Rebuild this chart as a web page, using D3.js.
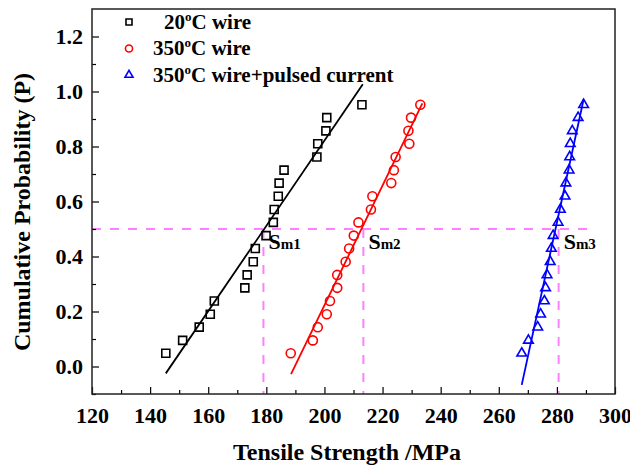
<!DOCTYPE html>
<html>
<head>
<meta charset="utf-8">
<script src="https://cdn.jsdelivr.net/npm/d3@7"></script>
<style>
  body { margin: 0; background: #fff; }
  text { font-family: "Liberation Serif", "Times New Roman", serif; font-weight: bold; }
</style>
</head>
<body>
<svg id="chart" width="630" height="466"></svg>
<script>
// cumulative probability levels (same for all three series)
var probs = [0.048, 0.095, 0.143, 0.190, 0.238, 0.286, 0.333, 0.381, 0.429, 0.476,
             0.524, 0.571, 0.619, 0.667, 0.714, 0.762, 0.810, 0.857, 0.905, 0.952]

// tensile strength, MPa
var wire20 = [145.4, 151.2, 156.9, 160.7, 162.1, 172.6, 173.4, 175.5, 176.2, 179.9,
              182.4, 182.7, 184.1, 184.4, 186.1, 197.4, 197.7, 200.5, 200.8, 212.9]
var wire350 = [188.4, 196.0, 197.7, 200.8, 201.9, 204.4, 204.4, 207.3, 208.5, 210.1,
               211.7, 216.0, 216.5, 223.0, 223.9, 224.5, 229.2, 228.9, 229.8, 233.0]
var wirePulsed = [267.9, 270.2, 273.4, 274.4, 275.7, 276.1, 276.6, 277.7, 278.1, 278.7,
                  280.4, 281.2, 282.8, 283.1, 284.2, 284.4, 284.6, 285.3, 287.3, 289.2]

// fitted lines, [strength, probability] at both ends
var fit20 = [[145.4, -0.025], [213.2, 1.026]]
var fit350 = [[188.5, -0.028], [233.7, 0.957]]
var fitPulsed = [[267.9, -0.067], [289.2, 0.972]]

// median strengths (P = 0.5)
var medians = [179.0, 213.4, 280.6]
var medianNames = ["1", "2", "3"]

var seriesNames = ["20", "350", "350"]
var seriesSuffix = ["C wire", "C wire", "C wire+pulsed current"]
var seriesColors = ["#000000", "#ff0000", "#0000ff"]

var xTicks = [120, 140, 160, 180, 200, 220, 240, 260, 280, 300]
var yTicks = [0.0, 0.2, 0.4, 0.6, 0.8, 1.0, 1.2]

var svg = d3.select("#chart")

var plotLeft = 92, plotRight = 615, plotTop = 9, plotBottom = 394

var x = d3.scaleLinear().domain([120, 300]).range([plotLeft, plotRight])
var y = d3.scaleLinear().domain([-0.1, 1.3]).range([plotBottom, plotTop])

// dashed median guides
var pink = "#ff80ff"
svg.append("line")
  .attr("x1", x(120)).attr("x2", x(290.4))
  .attr("y1", y(0.5)).attr("y2", y(0.5))
  .attr("stroke", pink).attr("stroke-width", 2).attr("stroke-dasharray", "9,9")

svg.selectAll(".vguide")
  .data(medians)
  .enter()
  .append("line")
  .attr("class", "vguide")
  .attr("x1", function(d) { return x(d) }).attr("x2", function(d) { return x(d) })
  .attr("y1", y(0.5)).attr("y2", y(-0.1))
  .attr("stroke", pink).attr("stroke-width", 2).attr("stroke-dasharray", "9,9")

// Sm labels
var sm = svg.selectAll(".sm")
  .data(medians)
  .enter()
  .append("text")
  .attr("class", "sm")
  .attr("x", function(d) { return x(d) + 5 })
  .attr("y", y(0.5) + 20)
  .style("font-size", "22px")
sm.append("tspan").text("S")
sm.append("tspan").style("font-size", "15px").text(function(d, i) { return "m" + medianNames[i] })

// fit lines
var line = d3.line()
  .x(function(d) { return x(d[0]) })
  .y(function(d) { return y(d[1]) })

var fits = [fit20, fit350, fitPulsed]
fits.forEach(function(f, i) {
  svg.append("path")
    .attr("d", line(f))
    .attr("fill", "none")
    .attr("stroke", seriesColors[i])
    .attr("stroke-width", 1.8)
})

// markers
var shapes = [d3.symbolSquare, d3.symbolCircle, d3.symbolTriangle]
var sizes = [64, 64, 40]
var allData = [wire20, wire350, wirePulsed]

allData.forEach(function(vals, i) {
  svg.selectAll(".pt" + i)
    .data(vals)
    .enter()
    .append("path")
    .attr("class", "pt" + i)
    .attr("d", d3.symbol().type(shapes[i]).size(sizes[i]))
    .attr("transform", function(d, j) {
      return "translate(" + x(d) + "," + y(probs[j]) + ")"
    })
    .attr("fill", "none")
    .attr("stroke", seriesColors[i])
    .attr("stroke-width", 1.6)
})

// axes with inside ticks
var xMinor = d3.range(130, 300, 20)
var yMinor = [-0.1, 0.1, 0.3, 0.5, 0.7, 0.9, 1.1]

var xAxis = d3.axisBottom(x).tickValues(xTicks).tickSize(-7).tickPadding(13)
  .tickFormat(d3.format("d"))
var gx = svg.append("g").attr("transform", "translate(0," + plotBottom + ")").call(xAxis)
gx.select(".domain").remove()
gx.selectAll("text").style("font-size", "22px").attr("fill", "#000")
gx.selectAll("line").attr("stroke", "#000").attr("stroke-width", 1.2)

svg.append("g").attr("transform", "translate(0," + plotBottom + ")")
  .call(d3.axisBottom(x).tickValues(xMinor).tickSize(-4).tickFormat(""))
  .call(function(g) { g.select(".domain").remove() })
  .selectAll("line").attr("stroke", "#000").attr("stroke-width", 1.2)

var yAxis = d3.axisLeft(y).tickValues(yTicks).tickSize(-7).tickPadding(9)
  .tickFormat(d3.format(".1f"))
var gy = svg.append("g").attr("transform", "translate(" + plotLeft + ",0)").call(yAxis)
gy.select(".domain").remove()
gy.selectAll("text").style("font-size", "22px").attr("fill", "#000")
gy.selectAll("line").attr("stroke", "#000").attr("stroke-width", 1.2)

svg.append("g").attr("transform", "translate(" + plotLeft + ",0)")
  .call(d3.axisLeft(y).tickValues(yMinor).tickSize(-4).tickFormat(""))
  .call(function(g) { g.select(".domain").remove() })
  .selectAll("line").attr("stroke", "#000").attr("stroke-width", 1.2)

// frame
svg.append("rect")
  .attr("x", plotLeft).attr("y", plotTop)
  .attr("width", plotRight - plotLeft).attr("height", plotBottom - plotTop)
  .attr("fill", "none").attr("stroke", "#222").attr("stroke-width", 1.5)

// axis titles
svg.append("text")
  .attr("x", 347).attr("y", 460)
  .attr("text-anchor", "middle")
  .style("font-size", "24px")
  .text("Tensile Strength /MPa")

svg.append("text")
  .attr("transform", "translate(30,212) rotate(-90)")
  .attr("text-anchor", "middle")
  .style("font-size", "24px")
  .text("Cumulative Probability (P)")

// legend
var legendY = [22, 48.5, 75]
var legendX = [164, 153, 153]
var legendSizes = [36, 40, 28]
seriesNames.forEach(function(name, i) {
  svg.append("path")
    .attr("d", d3.symbol().type(shapes[i]).size(legendSizes[i]))
    .attr("transform", "translate(129," + legendY[i] + ")")
    .attr("fill", "none")
    .attr("stroke", seriesColors[i])
    .attr("stroke-width", 1.6)
  var t = svg.append("text")
    .attr("x", legendX[i]).attr("y", legendY[i] + 6.5)
    .style("font-size", "21px")
  t.append("tspan").text(name)
  t.append("tspan").attr("dy", -8).style("font-size", "13px").text("o")
  t.append("tspan").attr("dy", 8).text(seriesSuffix[i])
})
</script>
</body>
</html>
